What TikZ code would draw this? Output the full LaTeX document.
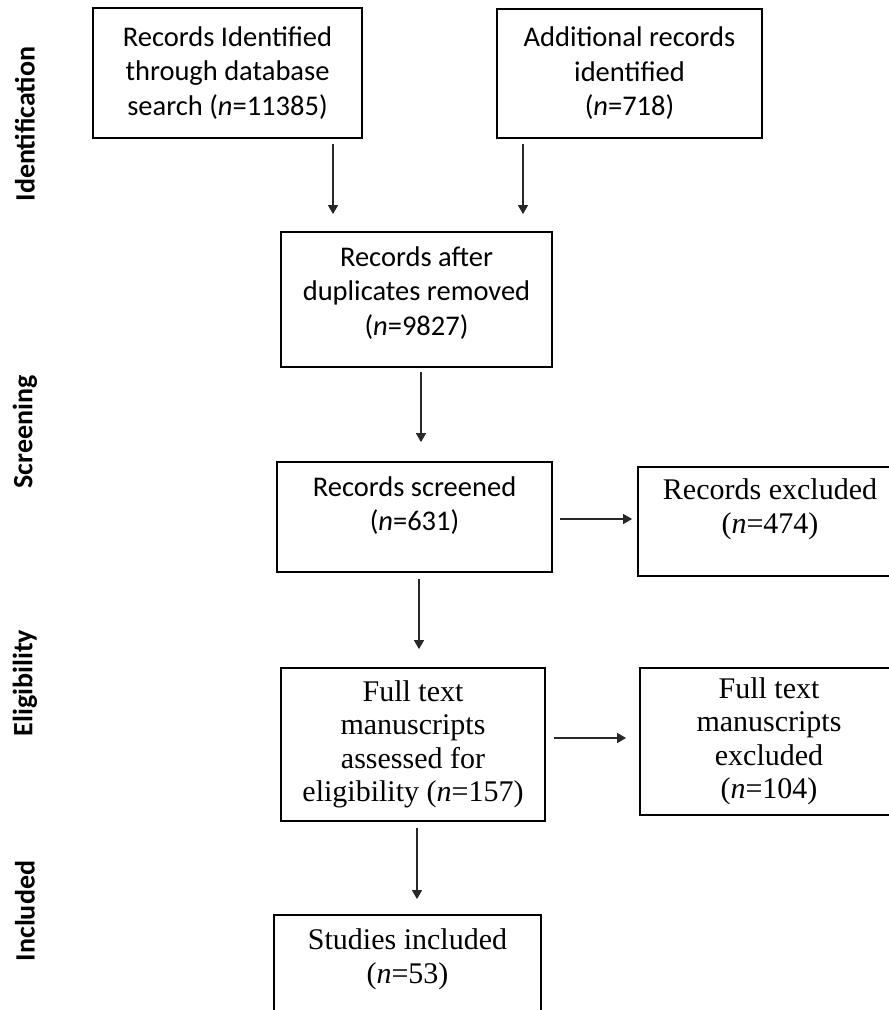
\documentclass[tikz,border=0pt]{standalone}
\usepackage{fontspec}
\usepackage{xcolor}
\usepackage{tikz}
\usetikzlibrary{
arrows.meta,
positioning,
calc
}
\newfontfamily\calibfont{Carlito}
\newfontfamily\cambfont{Liberation Serif}
\definecolor{prismaline}{RGB}{0,0,0}
\definecolor{prismaarrow}{RGB}{40,40,40}

\begin{document}
\begin{tikzpicture}[x=1pt, y=-1pt,
  >={Triangle[length=9pt, width=10pt]},
  sansbox/.style={draw=prismaline, line width=1.8pt, inner sep=0pt, align=center,
    font=\calibfont\fontsize{28.5}{34.5}\selectfont},
  serifbox/.style={sansbox, font=\cambfont\fontsize{30}{33.5}\selectfont},
  phase/.style={rotate=90, font=\calibfont\bfseries\fontsize{28}{32}\selectfont},
  arr/.style={->, line width=1.4pt, prismaarrow}]

%% Page frame
\useasboundingbox (0,0) rectangle (889,1010);
\clip (0,0) rectangle (889,1010);

%% Phase labels
\node[phase] (lident) at (25,124) {Identification};
\node[phase] (lscreen) at (25,432) {Screening};
\node[phase] (leligib) at (25,683) {Eligibility};
\node[phase] (lincl) at (25,911) {Included};

%% Identification
\node[sansbox, minimum width=269, minimum height=130] (idb) at (227.5,73)
  {Records Identified\\through database\\search ({\itshape n}=11385)};
\node[sansbox, minimum width=265, minimum height=129] (add) at (629.5,73.5)
  {Additional records\\identified\\({\itshape n}=718)};

%% Screening
\node[sansbox, minimum width=271, minimum height=135, text depth=17pt] (dup)
  at (416.5,299.5) {Records after\\duplicates removed\\({\itshape n}=9827)};
\node[sansbox, minimum width=275, minimum height=110, text depth=27pt] (scr)
  at (414.5,517) {Records screened\\({\itshape n}=631)};
\node[serifbox, minimum width=264, minimum height=109, text depth=31pt] (exc)
  at (770,521.5) {Records excluded\\({\itshape n}=474)};

%% Eligibility
\node[serifbox, minimum width=264, minimum height=153] (full) at (413,744.5)
  {Full text\\manuscripts\\assessed for\\eligibility ({\itshape n}=157)};
\node[serifbox, minimum width=258, minimum height=147] (fexc) at (769,741.5)
  {Full text\\manuscripts\\excluded\\({\itshape n}=104)};

%% Included
\node[serifbox, minimum width=267, minimum height=110, text depth=28pt] (inc)
  at (407.5,970) {Studies included\\({\itshape n}=53)};

%% Arrows
\draw[arr, shorten <=5pt, shorten >=17pt]
  ([xshift=105.5pt]idb.south) -- ([xshift=-83.5pt]dup.north);
\draw[arr, shorten <=5pt, shorten >=17pt]
  ([xshift=-106.5pt]add.south) -- ([xshift=106.5pt]dup.north);
\draw[arr, shorten <=4pt, shorten >=19pt]
  ([xshift=4.5pt]dup.south) -- ([xshift=6.5pt]scr.north);
\draw[arr, shorten <=6pt, shorten >=18pt]
  ([xshift=4.5pt]scr.south) -- ([xshift=6pt]full.north);
\draw[arr, shorten <=6pt, shorten >=15pt]
  ([xshift=4pt]full.south) -- ([xshift=9.5pt]inc.north);
\draw[arr, shorten <=7pt, shorten >=5pt]
  ([yshift=-2pt]scr.east) -- ([yshift=2.5pt]exc.west);
\draw[arr, shorten <=8pt, shorten >=13pt]
  ([yshift=6.5pt]full.east) -- ([yshift=3.5pt]fexc.west);

\end{tikzpicture}
\end{document}
